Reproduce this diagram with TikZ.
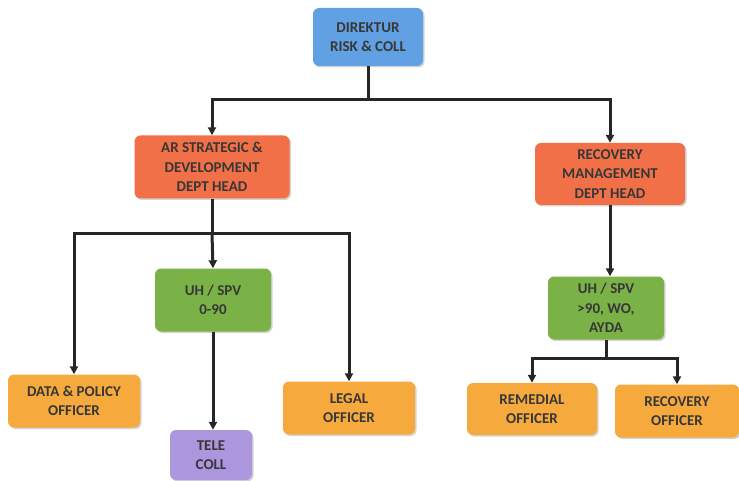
\documentclass[tikz,border=0pt]{standalone}
\usepackage{fontspec}
\setmainfont{Carlito}
\usetikzlibrary{arrows.meta,shadows}
\definecolor{cblue}{RGB}{98,160,228}
\definecolor{cred}{RGB}{242,112,72}
\definecolor{cgreen}{RGB}{122,178,72}
\definecolor{corange}{RGB}{246,170,62}
\definecolor{cpurple}{RGB}{172,150,222}
\definecolor{ctext}{RGB}{55,55,55}
\tikzset{
  box/.style={rounded corners=6pt, align=center, font=\fontsize{15}{19.5}\selectfont\bfseries, text=ctext, inner sep=0pt, drop shadow={shadow xshift=1.5pt, shadow yshift=-1.5pt, opacity=0.35}},
  conn/.style={line width=3pt, draw=black!85, -{Triangle[length=8pt,width=8pt]}},
  plain/.style={line width=3pt, draw=black!85}
}
\begin{document}
\begin{tikzpicture}[x=1pt,y=-1pt]
\useasboundingbox (0,0) rectangle (739,481);
\node[box, fill=cblue, minimum width=110pt, minimum height=58pt] (dir) at (368,37) {DIREKTUR\\RISK \& COLL};
\node[box, fill=cred, minimum width=155pt, minimum height=63pt] (ar) at (212,167) {AR STRATEGIC \&\\DEVELOPMENT\\DEPT HEAD};
\node[box, fill=cred, minimum width=150pt, minimum height=62pt] (rm) at (610,174) {RECOVERY\\MANAGEMENT\\DEPT HEAD};
\node[box, fill=cgreen, minimum width=116pt, minimum height=63pt] (uh1) at (213,300) {UH / SPV\\0-90};
\node[box, fill=cgreen, minimum width=116pt, minimum height=63pt] (uh2) at (606,308) {UH / SPV\\>90, WO,\\AYDA};
\node[box, fill=corange, minimum width=132pt, minimum height=53pt] (dp) at (74,401) {DATA \& POLICY\\OFFICER};
\node[box, fill=cpurple, minimum width=82pt, minimum height=50pt] (tele) at (211,455) {TELE\\COLL};
\node[box, fill=corange, minimum width=132pt, minimum height=53pt] (legal) at (349,408) {LEGAL\\OFFICER};
\node[box, fill=corange, minimum width=130pt, minimum height=52pt] (rem) at (532,409) {REMEDIAL\\OFFICER};
\node[box, fill=corange, minimum width=124pt, minimum height=53pt] (rec) at (677,411) {RECOVERY\\OFFICER};
\coordinate (j1) at (368,100);
\coordinate (j2) at (212,234);
\coordinate (j3) at (606,358);
\draw[plain] (dir.south) -- (j1);
\draw[conn] (j1) -| (ar.north);
\draw[conn] (j1) -| (rm.north);
\draw[plain] (ar.south) -- (j2);
\draw[conn] (j2) -| (dp.north);
\draw[conn] (j2) -- (uh1.north);
\draw[conn] (j2) -| (legal.north);
\draw[conn] (uh1.south) -- (uh1.south |- tele.north);
\draw[conn] (rm.south) -- (rm.south |- uh2.north);
\draw[plain] (uh2.south) -- (j3);
\draw[conn] (j3) -| (rem.north);
\draw[conn] (j3) -| (rec.north);
\end{tikzpicture}
\end{document}
